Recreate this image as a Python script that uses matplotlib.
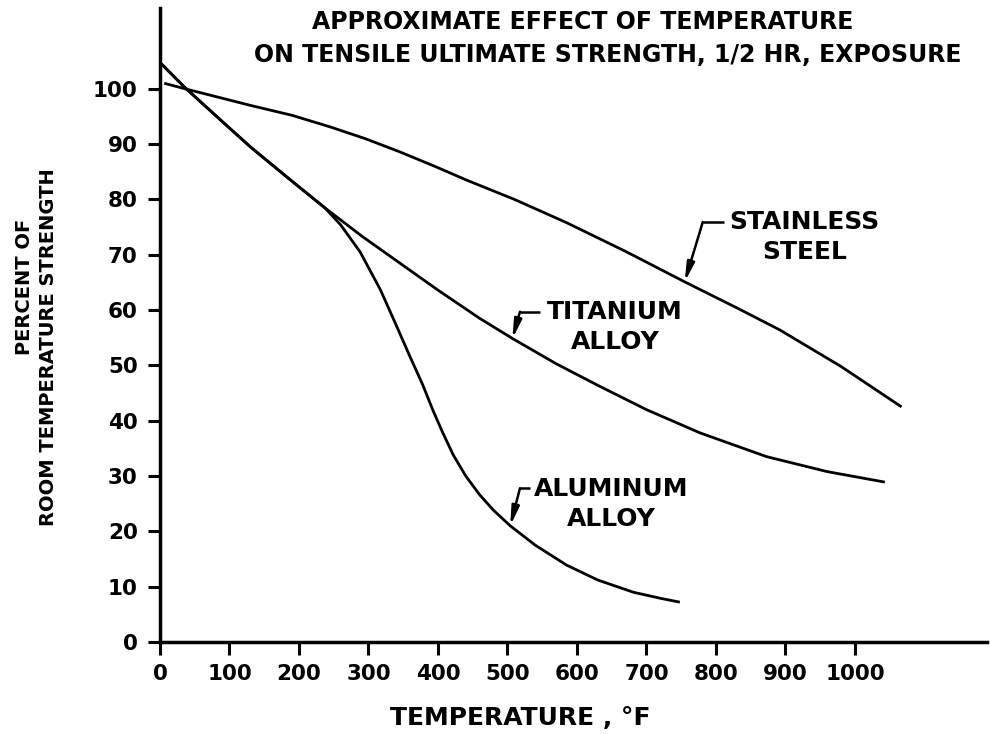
import matplotlib
matplotlib.use("Agg")
import matplotlib.pyplot as plt

# ---- data ----
steel_T = [6, 36, 130, 190, 245, 295, 345, 395, 441, 510, 585, 670, 755, 830, 892, 980, 1067]
steel_V = [101.0, 100.0, 97.0, 95.2, 93.1, 91.0, 88.6, 86.0, 83.5, 80.0, 75.8, 70.6, 65.1, 60.4, 56.4, 49.8, 42.5]

ti_T = [2, 36, 85, 130, 185, 237, 290, 345, 400, 460, 508, 570, 633, 700, 777, 873, 960, 1043]
ti_V = [104.5, 100.2, 94.6, 89.5, 83.8, 78.5, 73.4, 68.5, 63.6, 58.5, 54.8, 50.3, 46.2, 42.0, 37.8, 33.5, 30.8, 28.9]

al_T = [2, 36, 85, 130, 185, 237, 260, 288, 317, 338, 360, 378, 393, 407, 422, 440, 460, 480,
        504, 540, 585, 630, 681, 720, 748]
al_V = [104.5, 100.2, 94.6, 89.5, 83.8, 78.5, 75.4, 70.5, 63.7, 57.8, 51.5, 46.5, 41.8, 37.8, 33.8,
        30.0, 26.6, 23.8, 21.0, 17.5, 13.9, 11.2, 9.0, 7.9, 7.2]

x_ticks = [0, 100, 200, 300, 400, 500, 600, 700, 800, 900, 1000]
y_ticks = [0, 10, 20, 30, 40, 50, 60, 70, 80, 90, 100]

title1 = "APPROXIMATE EFFECT OF TEMPERATURE"
title2 = "ON TENSILE ULTIMATE STRENGTH, 1/2 HR, EXPOSURE"
xlabel = "TEMPERATURE , °F"
ylabel1 = "PERCENT OF"
ylabel2 = "ROOM TEMPERATURE STRENGTH"

FONT = "DejaVu Sans"
plt.rcParams['font.family'] = [FONT]
plt.rcParams['font.weight'] = 'bold'

fig = plt.figure(figsize=(9.9, 7.34), dpi=100)
ax = fig.add_axes([160/990, 1-642/734, (987-160)/990, (642-8)/734])
ax.set_xlim(0, 1190)
ax.set_ylim(0, 114.6)

lw = 2.0
for T, V in [(steel_T, steel_V), (ti_T, ti_V), (al_T, al_V)]:
    ax.plot(T, V, color='black', lw=lw, solid_capstyle='butt', solid_joinstyle='round')

for s in ['top', 'right']:
    ax.spines[s].set_visible(False)
for s in ['left', 'bottom']:
    ax.spines[s].set_linewidth(2.5)

ax.set_xticks(x_ticks)
ax.set_yticks(y_ticks)
ax.set_xticklabels([str(v) for v in x_ticks])
ax.set_yticklabels([str(v) for v in y_ticks])
ax.tick_params(axis='both', direction='out', length=9, width=2.2, labelsize=15.5, pad=7)

# labels with leaders
lab_fs = 18
def leader(tip, corner, text_x):
    ax.annotate("", xy=tip, xytext=corner,
                arrowprops=dict(arrowstyle='-|>,head_length=0.8,head_width=0.16',
                                color='black', lw=1.8, shrinkA=0, shrinkB=0,
                                mutation_scale=14))
    ax.plot([corner[0], text_x], [corner[1], corner[1]], color='black', lw=1.8,
            solid_capstyle='butt')

ax.text(927, 73.2, "STAINLESS\nSTEEL", ha='center', va='center', fontsize=lab_fs,
        multialignment='center', linespacing=1.3)
leader((755, 65.1), (781, 75.9), 812)

ax.text(655, 57.0, "TITANIUM\nALLOY", ha='center', va='center', fontsize=lab_fs,
        multialignment='center', linespacing=1.3)
leader((507, 54.8), (518, 59.7), 547)

ax.text(649, 25.0, "ALUMINUM\nALLOY", ha='center', va='center', fontsize=lab_fs,
        multialignment='center', linespacing=1.3)
leader((504, 21.0), (518, 27.8), 532)

fig.text(583/990, 1-22/734, title1, ha='center', va='center', fontsize=17)
fig.text(608/990, 1-55/734, title2, ha='center', va='center', fontsize=17)
fig.text(520/990, 1-718/734, xlabel, ha='center', va='center', fontsize=18)
fig.text(25/990, 1-287/734, ylabel1, ha='center', va='center', rotation=90, fontsize=14)
fig.text(49/990, 1-347/734, ylabel2, ha='center', va='center', rotation=90, fontsize=14)

fig.savefig("out.png", dpi=100)
